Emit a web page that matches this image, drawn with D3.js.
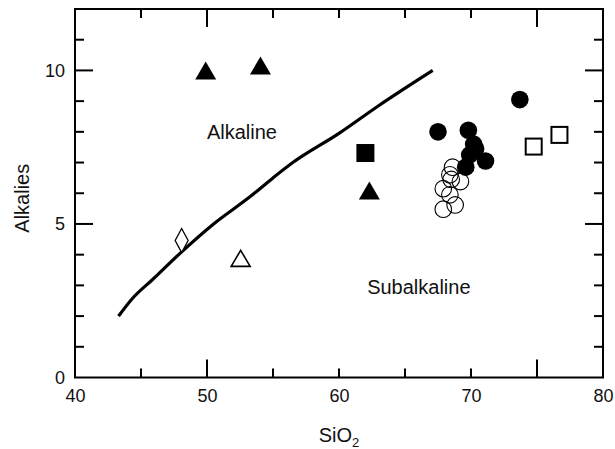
<!DOCTYPE html>
<html>
<head>
<meta charset="utf-8">
<script src="https://cdn.jsdelivr.net/npm/d3@7"></script>
<style>
  body { margin: 0; background: #fff; }
  text { font-family: "Liberation Sans", Arial, sans-serif; fill: #111; }
</style>
</head>
<body>
<div class="tas_chart"></div>
<script>
// Data
var divideLine = [[43.3, 2.0], [44.3, 2.55], [45.9, 3.2], [48.1, 4.1], [50.5, 5.0], [53.3, 5.9],
                  [55, 6.5], [56.5, 7.0], [60, 7.95], [63, 8.85], [67.1, 10.0]];
var filledTriangles = [[49.9, 10.0], [54.05, 10.16], [62.3, 6.09]];
var openTriangles = [[52.55, 3.88]];
var openDiamonds = [[48.08, 4.46]];
var filledSquares = [[62.0, 7.31]];
var openSquares = [[74.75, 7.52], [76.7, 7.9]];
var filledCircles = [[67.5, 8.0], [69.8, 8.05], [70.2, 7.6], [70.35, 7.45], [69.9, 7.25],
                     [69.6, 6.85], [71.1, 7.05], [73.7, 9.05]];
var openCircles = [[68.6, 6.85], [68.4, 6.6], [68.5, 6.45], [69.2, 6.38], [67.9, 6.15],
                   [68.4, 5.95], [68.8, 5.62], [67.9, 5.48]];

var xTicks = [45, 50, 55, 60, 65, 70, 75];
var xLabels = [40, 50, 60, 70, 80];
var xLong = [50, 75];
var yTicks = [1, 2, 3, 4, 5, 6, 7, 8, 9, 10, 11];
var yLabels = [0, 5, 10];
var yLong = [5, 10];

var W = 615, H = 449;
var plot = {left: 75, right: 603, top: 9, bottom: 377.5};

var svg = d3.select(".tas_chart")
  .append("svg")
  .attr("width", W)
  .attr("height", H);

var x = d3.scaleLinear().domain([40, 80]).range([plot.left, plot.right]);
var y = d3.scaleLinear().domain([0, 12]).range([plot.bottom, plot.top]);

// tick labels via axes (no tick lines, no domain)
var xb = svg.append("g")
  .attr("transform", "translate(0," + plot.bottom + ")")
  .call(d3.axisBottom(x).tickValues(xLabels).tickSize(0).tickPadding(12));
xb.select(".domain").remove();
xb.selectAll(".tick text").style("font-size", "18px").attr("fill", "#111")
  .style("font-family", "'Liberation Sans', Arial, sans-serif");

var yl = svg.append("g")
  .attr("transform", "translate(" + plot.left + ",0)")
  .call(d3.axisLeft(y).tickValues(yLabels).tickSize(0).tickPadding(10));
yl.select(".domain").remove();
yl.selectAll(".tick text").style("font-size", "18px").attr("fill", "#111")
  .style("font-family", "'Liberation Sans', Arial, sans-serif");

// inward tick marks on all four sides
var ticks = svg.append("g").attr("stroke", "#000").attr("stroke-width", 2);

ticks.selectAll(".xbot").data(xTicks).enter().append("line")
  .attr("x1", d => x(d)).attr("x2", d => x(d))
  .attr("y1", plot.bottom).attr("y2", d => plot.bottom - (xLong.indexOf(d) >= 0 ? 18 : 9));
ticks.selectAll(".xtop").data(xTicks).enter().append("line")
  .attr("x1", d => x(d)).attr("x2", d => x(d))
  .attr("y1", plot.top).attr("y2", d => plot.top + (xLong.indexOf(d) >= 0 ? 18 : 9));
ticks.selectAll(".yleft").data(yTicks).enter().append("line")
  .attr("y1", d => y(d)).attr("y2", d => y(d))
  .attr("x1", plot.left).attr("x2", d => plot.left + (yLong.indexOf(d) >= 0 ? 18 : 9));
ticks.selectAll(".yright").data(yTicks).enter().append("line")
  .attr("y1", d => y(d)).attr("y2", d => y(d))
  .attr("x1", plot.right).attr("x2", d => plot.right - (yLong.indexOf(d) >= 0 ? 18 : 9));

// frame
svg.append("rect")
  .attr("x", plot.left).attr("y", plot.top)
  .attr("width", plot.right - plot.left).attr("height", plot.bottom - plot.top)
  .attr("fill", "none").attr("stroke", "#000").attr("stroke-width", 2);

// axis titles
svg.append("text")
  .attr("transform", "translate(29," + ((plot.top + plot.bottom) / 2 + 5) + ") rotate(-90)")
  .style("text-anchor", "middle")
  .style("font-size", "20px")
  .text("Alkalies");

var xTitle = svg.append("text")
  .attr("x", (plot.left + plot.right) / 2)
  .attr("y", 442)
  .style("text-anchor", "middle")
  .style("font-size", "20px");
xTitle.append("tspan").text("SiO");
xTitle.append("tspan").attr("dy", 5).style("font-size", "13px").text("2");

// field labels
svg.append("text").attr("x", x(52.65)).attr("y", y(8.0) + 7)
  .style("text-anchor", "middle").style("font-size", "20px").text("Alkaline");
svg.append("text").attr("x", x(66.05)).attr("y", y(2.95) + 7)
  .style("text-anchor", "middle").style("font-size", "20px").text("Subalkaline");

// dividing line
svg.append("path")
  .datum(divideLine)
  .attr("fill", "none")
  .attr("stroke", "#000")
  .attr("stroke-width", 3.2)
  .attr("stroke-linejoin", "round")
  .attr("d", d3.line().x(d => x(d[0])).y(d => y(d[1])).curve(d3.curveMonotoneX));

// markers
function triPath(w, h) {
  return "M0," + (-h / 2) + "L" + (w / 2) + "," + (h / 2) + "L" + (-w / 2) + "," + (h / 2) + "Z";
}
function diamondPath(w, h) {
  return "M0," + (-h / 2) + "L" + (w / 2) + ",0L0," + (h / 2) + "L" + (-w / 2) + ",0Z";
}

svg.append("g").selectAll("path")
  .data(filledTriangles).enter().append("path")
  .attr("transform", d => "translate(" + x(d[0]) + "," + y(d[1]) + ")")
  .attr("d", triPath(21, 18))
  .attr("fill", "#000");

svg.append("g").selectAll("path")
  .data(openTriangles).enter().append("path")
  .attr("transform", d => "translate(" + x(d[0]) + "," + y(d[1]) + ")")
  .attr("d", triPath(19, 16))
  .attr("fill", "#fff").attr("stroke", "#000").attr("stroke-width", 1.6);

svg.append("g").selectAll("path")
  .data(openDiamonds).enter().append("path")
  .attr("transform", d => "translate(" + x(d[0]) + "," + y(d[1]) + ")")
  .attr("d", diamondPath(13, 24))
  .attr("fill", "#fff").attr("stroke", "#000").attr("stroke-width", 1.3);

svg.append("g").selectAll("rect")
  .data(filledSquares).enter().append("rect")
  .attr("x", d => x(d[0]) - 9).attr("y", d => y(d[1]) - 9)
  .attr("width", 18).attr("height", 18)
  .attr("fill", "#000");

svg.append("g").selectAll("rect")
  .data(openSquares).enter().append("rect")
  .attr("x", d => x(d[0]) - 8).attr("y", d => y(d[1]) - 8)
  .attr("width", 16).attr("height", 16)
  .attr("fill", "#fff").attr("stroke", "#000").attr("stroke-width", 2);

svg.append("g").selectAll("circle")
  .data(openCircles).enter().append("circle")
  .attr("cx", d => x(d[0])).attr("cy", d => y(d[1])).attr("r", 8.3)
  .attr("fill", "none").attr("stroke", "#000").attr("stroke-width", 1.1);

svg.append("g").selectAll("circle")
  .data(filledCircles).enter().append("circle")
  .attr("cx", d => x(d[0])).attr("cy", d => y(d[1])).attr("r", 8.8)
  .attr("fill", "#000");
</script>
</body>
</html>
